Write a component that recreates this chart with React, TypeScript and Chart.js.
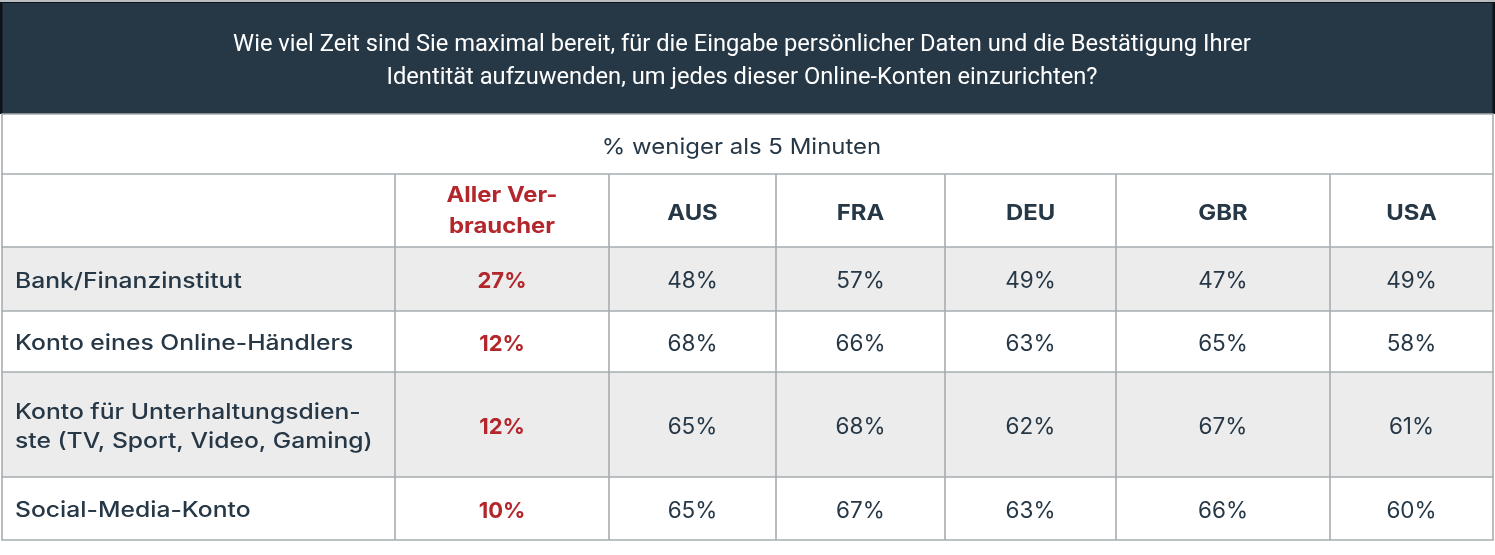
import React, { useEffect, useRef } from "react";
import { Chart, registerables } from "chart.js";

Chart.register(...registerables);

const titleLines = [
  "Wie viel Zeit sind Sie maximal bereit, für die Eingabe persönlicher Daten und die Bestätigung Ihrer",
  "Identität aufzuwenden, um jedes dieser Online-Konten einzurichten?",
];
const subtitle = "% weniger als 5 Minuten";
const columnHeaders: string[][] = [[""], ["Aller Ver-", "braucher"], ["AUS"], ["FRA"], ["DEU"], ["GBR"], ["USA"]];
const rowLabels: string[][] = [
  ["Bank/Finanzinstitut"],
  ["Konto eines Online-Händlers"],
  ["Konto für Unterhaltungsdien-", "ste (TV, Sport, Video, Gaming)"],
  ["Social-Media-Konto"],
];
const allConsumers = [27, 12, 12, 10];
const AUS = [48, 68, 65, 65];
const FRA = [57, 66, 68, 67];
const DEU = [49, 63, 62, 63];
const GBR = [47, 65, 67, 66];
const USA = [49, 58, 61, 60];
const seriesValues = [allConsumers, AUS, FRA, DEU, GBR, USA];

// layout (in scale units = px)
const W = 1495;
const H = 555;
const colEdges = [2, 395, 609, 776, 945, 1116, 1330, 1493];
const titleBand = [2, 114];
const subBand = [114, 174];
const headBand = [174, 247];
const rowEdges = [247, 311, 372, 477, 540];

const DARK = "#263746";
const RED = "#b3262c";
const GRID = "#a6acb1";
const STRIPE = "#ececec";
const TABLE_FONT = "Inter";

function drawText(
  ctx: CanvasRenderingContext2D,
  text: string,
  x: number,
  y: number,
  align: CanvasTextAlign,
  stretch: number
) {
  ctx.save();
  ctx.translate(x, y);
  ctx.scale(stretch, 1);
  ctx.textAlign = align;
  ctx.textBaseline = "middle";
  ctx.fillText(text, 0, 0);
  ctx.restore();
}

const tablePlugin = {
  id: "tablePlugin",
  afterDraw(chart: any) {
    const ctx = chart.ctx as CanvasRenderingContext2D;
    const xs = chart.scales.x;
    const ys = chart.scales.y;
    const px = (v: number) => xs.getPixelForValue(v);
    const py = (v: number) => ys.getPixelForValue(v);
    ctx.save();
    // background
    ctx.fillStyle = "#ffffff";
    ctx.fillRect(px(0), py(0), px(W) - px(0), py(H) - py(0));
    // title band
    ctx.fillStyle = "#b9bdc1";
    ctx.fillRect(px(0), py(0), px(W) - px(0), py(titleBand[0]) - py(0));
    ctx.fillStyle = "#0d1217";
    ctx.fillRect(px(0), py(titleBand[0]), px(W) - px(0), py(titleBand[1]) - py(titleBand[0]));
    ctx.fillStyle = DARK;
    ctx.fillRect(px(2.5), py(titleBand[0] + 1), px(1492.5) - px(2.5), py(titleBand[1]) - py(titleBand[0] + 1));
    ctx.fillStyle = "#ffffff";
    ctx.font = `400 23.7px Roboto`;
    titleLines.forEach((t, i) => {
      drawText(ctx, t, px(742), py(45 + i * 33), "center", 1);
    });
    // stripes
    rowLabels.forEach((_, r) => {
      if (r % 2 === 0) {
        ctx.fillStyle = STRIPE;
        ctx.fillRect(px(colEdges[0]), py(rowEdges[r]), px(colEdges[7]) - px(colEdges[0]), py(rowEdges[r + 1]) - py(rowEdges[r]));
      }
    });
    // grid lines
    ctx.strokeStyle = GRID;
    ctx.lineWidth = 1.6;
    const hLines = [subBand[0], subBand[1], headBand[1], ...rowEdges.slice(1)];
    hLines.forEach((y) => {
      ctx.beginPath();
      ctx.moveTo(px(colEdges[0]) - 0.8, py(y));
      ctx.lineTo(px(colEdges[7]) + 0.8, py(y));
      ctx.stroke();
    });
    colEdges.forEach((x, i) => {
      ctx.beginPath();
      const top = i === 0 || i === colEdges.length - 1 ? subBand[0] : subBand[1];
      ctx.moveTo(px(x), py(top));
      ctx.lineTo(px(x), py(rowEdges[rowEdges.length - 1]));
      ctx.stroke();
    });
    // subtitle
    ctx.fillStyle = DARK;
    ctx.font = `400 22px ${TABLE_FONT}`;
    drawText(ctx, subtitle, px(741.5), py(147), "center", 1.09);
    // headers
    const cx = (c: number) => px((colEdges[c] + colEdges[c + 1]) / 2);
    columnHeaders.forEach((lines, c) => {
      if (c === 0) return;
      ctx.fillStyle = c === 1 ? RED : DARK;
      ctx.font = `700 21.5px ${TABLE_FONT}`;
      const mid = lines.length > 1 ? 211.5 : 214;
      lines.forEach((t, i) => {
        const y = mid + (i - (lines.length - 1) / 2) * 31;
        drawText(ctx, t, cx(c), py(y), "center", 1.11);
      });
    });
    // rows
    rowLabels.forEach((lines, r) => {
      const mid = (rowEdges[r] + rowEdges[r + 1]) / 2 + 2.5;
      ctx.fillStyle = DARK;
      ctx.font = `500 21px ${TABLE_FONT}`;
      lines.forEach((t, i) => {
        const y = mid + (i - (lines.length - 1) / 2) * 28.5;
        drawText(ctx, t, px(15), py(y), "left", 1.175);
      });
      seriesValues.forEach((vals, s) => {
        ctx.fillStyle = s === 0 ? RED : DARK;
        ctx.font = s === 0 ? `700 22px ${TABLE_FONT}` : `400 22.5px ${TABLE_FONT}`;
        drawText(ctx, `${vals[r]}%`, cx(s + 1), py(mid), "center", 1);
      });
    });
    ctx.restore();
  },
};

export default function App() {
  const ref = useRef<HTMLCanvasElement>(null);
  useEffect(() => {
    document.body.style.margin = "0";
    const canvas = ref.current!;
    const chart = new Chart(canvas, {
      type: "scatter",
      data: { datasets: [{ data: [] }] },
      options: {
        animation: false,
        responsive: false,
        devicePixelRatio: 1,
        events: [],
        layout: { padding: 0 },
        plugins: { legend: { display: false }, tooltip: { enabled: false } },
        scales: {
          x: { type: "linear", min: 0, max: W, display: false },
          y: { type: "linear", min: 0, max: H, reverse: true, display: false },
        },
      },
      plugins: [tablePlugin],
    });
    return () => chart.destroy();
  }, []);
  return (
    <div style={{ width: W, height: H }}>
      <canvas ref={ref} width={W} height={H} style={{ display: "block" }} />
    </div>
  );
}
